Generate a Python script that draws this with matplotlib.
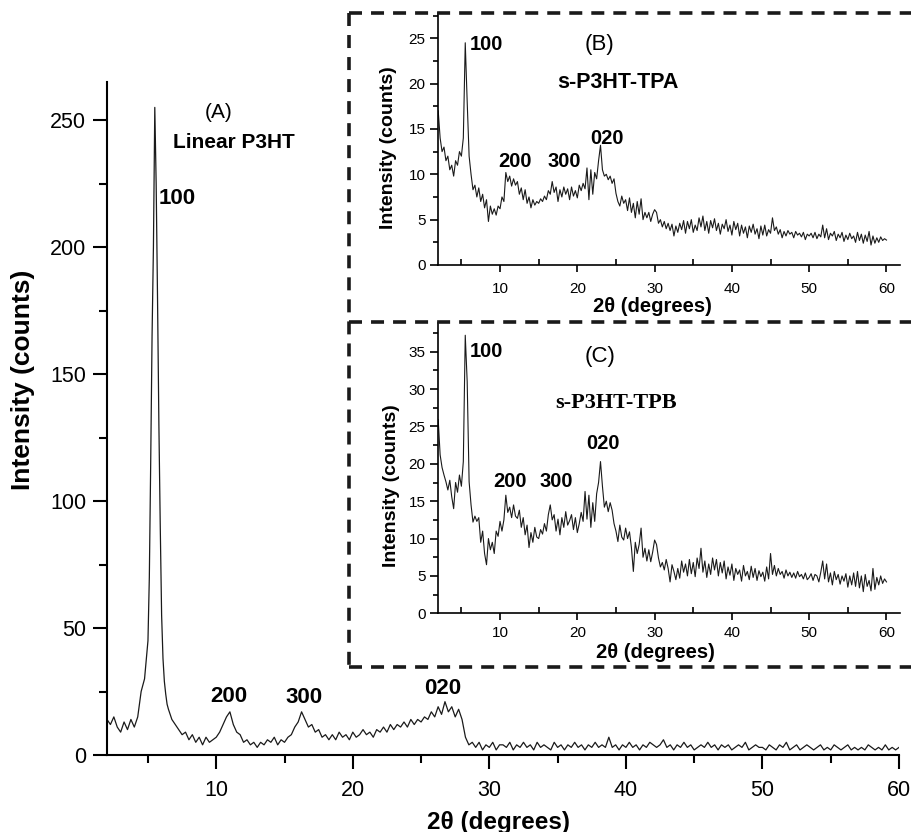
import numpy as np
import matplotlib.pyplot as plt
from matplotlib.lines import Line2D
from matplotlib.ticker import MultipleLocator

plt.rcParams['font.family'] = ['Liberation Sans', 'DejaVu Sans']

# ---------------- (A) Linear P3HT, counts ----------------
# sampled coarse before the 100 peak, fine across it, coarse after it
a_before_start, a_before_step = 2.0, 0.25
a_before = [14, 12, 15, 11, 9, 13, 10, 14, 11, 15, 25, 30]

a_peak_start, a_peak_step = 5.0, 0.1
a_peak = [45, 70, 115, 165, 200, 255, 225, 180, 130, 90, 55, 38, 29, 24, 20]

a_after_start, a_after_step = 6.5, 0.25
a_after = [18, 14,
           12, 10, 8, 9,   6, 8, 5, 7,   4, 7, 5, 6,   7, 9, 12, 15,
           17, 12, 9, 8,   5, 6, 4, 5,   3, 5, 4, 6,   5, 7, 4, 6,
           5, 7, 8, 11,    13, 17, 14, 11,  12, 9, 10, 7,  8, 6, 8, 6,
           9, 7, 8, 6,     9, 7, 8, 10,  8, 9, 7, 10,  9, 11, 9, 12,
           10, 12, 11, 13,  11, 14, 12, 14,  13, 15, 14, 17,  15, 19, 16, 21,
           17, 19, 15, 18,  14, 7, 4, 5,
           # 29 - 35.75
           3, 5, 2, 4, 3, 5, 2, 4, 4, 3, 5, 2, 4, 3, 5, 3, 4, 2, 5, 3, 4, 3, 2, 5, 3, 4, 2, 4,
           # 36 - 42.75
           3, 5, 3, 4, 2, 4, 3, 5, 3, 4, 3, 7, 3, 4, 2, 4, 3, 5, 3, 4, 2, 4, 3, 5, 4, 3, 4, 6,
           # 43 - 49.75
           3, 4, 2, 4, 3, 5, 3, 4, 2, 3, 4, 3, 5, 3, 4, 2, 4, 3, 4, 2, 3, 4, 3, 5, 2, 3, 4, 3,
           # 50 - 56.75
           3, 2, 4, 3, 2, 4, 3, 5, 2, 3, 4, 2, 3, 4, 3, 2, 3, 4, 2, 3, 2, 4, 3, 2, 3, 4, 2, 3,
           # 57 - 60
           2, 3, 2, 4, 3, 2, 3, 2, 4, 2, 3, 2, 3]

# ---------------- insets, 2 to 60 degrees in 0.25 steps ----------------
inset_start, inset_step = 2.0, 0.25

# (B) s-P3HT-TPA, four values per degree
tpa_counts = [
    17, 14, 12.5, 13,  11.5, 12, 10.5, 11,  9.8, 11.5, 11, 12.5,  12, 14, 24.5, 18,
    12, 10, 8.3, 8.8,  7.5, 8.5, 7, 7.8,  6.3, 7.2, 4.8, 6.5,  5.6, 6.2, 5.5, 6.5,
    6.2, 7.5, 7.0, 10.2,  9.2, 9.8, 8.7, 9.5,  8.8, 9.2, 7.8, 8.5,  7.2, 8.3, 6.8, 7.5,
    6.3, 7.2, 6.6, 7.0,  6.8, 7.3, 7.0, 7.6,  7.2, 8.2, 7.8, 9.2,  8.0, 8.6, 7.0, 8.3,
    7.5, 8.6, 7.8, 8.4,  7.2, 8.6, 7.6, 8.2,  7.4, 8.8, 8.2, 9.0,  8.4, 10.7, 7.2, 10.5,
    7.8, 10.2, 9.5, 11.5,  13.2, 10.5, 9.8, 10.0,  9.4, 9.8, 9.0, 9.5,  7.9, 7.0, 6.5, 7.6,
    6.8, 7.2, 6.0, 7.4,  5.8, 6.8, 5.2, 7.0,  5.6, 7.3, 5.0, 5.8,  5.2, 5.8, 4.8, 5.6,
    6.1, 5.8, 4.6, 5.0,  4.2, 4.8, 4.0, 4.6,  3.8, 4.5, 3.2, 4.3,  3.6, 4.6, 3.9, 4.9,
    3.5, 4.8, 4.0, 5.0,  3.6, 4.4, 3.8, 5.2,  4.2, 5.4, 3.8, 4.8,  3.5, 4.9, 4.1, 5.1,
    3.8, 4.6, 3.4, 4.5,  4.0, 5.0, 3.7, 4.4,  3.3, 4.8, 3.9, 4.6,  3.2, 4.4, 3.5, 4.2,
    3.0, 4.3, 3.6, 4.5,  3.4, 4.0, 2.9, 4.3,  3.3, 4.4, 3.2, 3.9,  3.5, 5.2, 3.8, 4.2,
    3.4, 3.9, 3.0, 3.7,  3.2, 3.8, 3.4, 3.6,  3.0, 3.7, 3.3, 3.5,  3.1, 3.6, 2.8, 3.4,
    3.2, 3.5, 3.0, 3.6,  2.9, 3.4, 3.1, 4.4,  3.0, 4.0, 2.8, 3.5,  3.2, 3.7, 2.7, 3.4,
    3.0, 3.6, 2.6, 3.3,  2.8, 3.5, 2.9, 3.2,  2.5, 3.6, 2.7, 3.4,  2.4, 3.3, 2.6, 3.7,
    2.2, 3.2, 2.4, 3.0,  2.5, 3.1, 2.7, 2.9,  2.75]

# (C) s-P3HT-TPB
tpb_counts = [
    25.9, 21.2, 19.5, 18.5,  17.6, 16.5, 17.8, 15.6,  14.0, 17.5, 16.2, 18.5,  17.0, 20.3, 37.2, 31.0,
    17.6, 14.5, 12.2, 13.0,  12.3, 12.8, 9.5, 11.0,  8.0, 6.5, 10.0, 8.5,  9.5, 8.0, 11.0, 10.3,
    12.3, 11.0, 12.5, 15.8,  13.5, 14.2, 12.8, 14.5,  13.0, 12.7, 13.8, 11.5,  12.8, 10.5, 11.8, 8.8,
    10.8, 9.5, 11.5, 10.2,  10.0, 11.2, 10.6, 12.0,  11.0, 13.2, 14.5, 12.5,  13.2, 11.0, 12.6, 10.5,
    12.8, 11.5, 13.6, 11.8,  12.4, 13.2, 11.2, 12.8,  10.8, 12.0, 13.5, 12.3,  16.3, 12.6, 15.8, 11.5,
    14.8, 12.3, 16.0, 17.5,  20.3, 17.0, 14.2, 15.0,  13.6, 14.8, 13.8, 12.0,  11.0, 9.6, 11.8, 10.2,
    9.8, 11.4, 10.0, 10.9,  8.8, 5.6, 9.5, 8.0,  9.2, 11.4, 7.5, 8.7,  7.0, 8.5, 6.9, 8.2,
    9.8, 9.2, 7.4, 6.2,  6.8, 5.8, 7.2, 6.0,  4.2, 6.5, 5.6, 4.5,  6.0, 4.7, 7.0, 5.5,
    6.6, 5.0, 7.2, 5.3,  6.8, 4.9, 7.4, 6.0,  8.7, 5.5, 7.0, 4.8,  6.6, 5.2, 7.4, 5.8,
    7.2, 5.0, 6.8, 5.4,  7.0, 4.6, 6.2, 5.1,  6.6, 4.4, 6.0, 5.2,  5.8, 4.3, 6.4, 5.0,
    5.6, 4.5, 6.3, 4.8,  6.0, 4.4, 5.7, 4.9,  5.5, 4.3, 6.2, 4.6,  8.0, 5.2, 6.4, 5.0,
    6.0, 5.2, 5.6, 4.7,  5.8, 5.0, 5.5, 4.8,  5.4, 4.7, 5.6, 4.9,  5.2, 4.6, 5.4, 4.5,
    4.8, 5.3, 4.4, 5.2,  5.0, 4.2, 5.5, 7.0,  4.6, 6.6, 4.2, 5.4,  3.8, 5.6, 4.5, 5.2,
    3.9, 5.0, 4.3, 5.3,  3.5, 5.0, 3.8, 5.4,  3.6, 5.6, 3.4, 5.0,  2.9, 5.2, 3.6, 4.4,
    3.0, 6.0, 3.2, 4.8,  3.8, 5.0, 4.0, 4.6,  4.2]

peak_labels = ['100', '200', '300', '020']


def grid(start, step, values):
    return start + step * np.arange(len(values))


a_x = np.concatenate([grid(a_before_start, a_before_step, a_before),
                      grid(a_peak_start, a_peak_step, a_peak),
                      grid(a_after_start, a_after_step, a_after)])
a_y = np.array(a_before + a_peak + a_after, dtype=float)
tpa_x = grid(inset_start, inset_step, tpa_counts)
tpb_x = grid(inset_start, inset_step, tpb_counts)

W, H = 912, 832


def px_rect(left, top, right, bottom):
    # pixel box of the picture -> figure fraction
    return [left / W, 1 - bottom / H, (right - left) / W, (bottom - top) / H]


fig = plt.figure(figsize=(W / 100, H / 100), dpi=100)
line_color = '#1a1a1a'

# ---------------- main panel ----------------
ax = fig.add_axes(px_rect(107, 82, 899, 755))
ax.plot(a_x, a_y, color=line_color, lw=0.9)
ax.set_xlim(2, 60)
ax.set_ylim(0, 265)
for s in ['top', 'right']:
    ax.spines[s].set_visible(False)
for s in ['left', 'bottom']:
    ax.spines[s].set_linewidth(1.5)
ax.xaxis.set_major_locator(MultipleLocator(10))
ax.xaxis.set_minor_locator(MultipleLocator(5))
ax.yaxis.set_major_locator(MultipleLocator(50))
ax.yaxis.set_minor_locator(MultipleLocator(25))
ax.tick_params(which='both', direction='out', width=1.5, labelsize=15.5)
ax.tick_params(which='major', length=10)
ax.tick_params(which='minor', length=5.5)
ax.tick_params(axis='x', pad=8)
ax.tick_params(axis='y', pad=5)
ax.set_xlabel('2θ (degrees)', fontsize=17.5, fontweight='bold', va='center')
ax.xaxis.set_label_coords(0.494, -0.0996)
ax.set_ylabel('Intensity (counts)', fontsize=19, fontweight='bold', va='center')
ax.yaxis.set_label_coords(-0.106, 0.557)

ax.text(10.2, 253, '(A)', ha='center', va='center', fontsize=15)
ax.text(11.3, 241, 'Linear P3HT', ha='center', va='center', fontsize=15, fontweight='bold')
for lab, (x, y) in zip(peak_labels, [(7.13, 219), (10.94, 23), (16.44, 22.5), (26.6, 26)]):
    ax.text(x, y, lab, ha='center', va='center', fontsize=16, fontweight='bold')

# ---------------- insets ----------------
axb = fig.add_axes(px_rect(438.2, 13.3, 900, 265))
axc = fig.add_axes(px_rect(438.2, 323.3, 900, 613.3))
axb.plot(tpa_x, tpa_counts, color=line_color, lw=0.8)
axc.plot(tpb_x, tpb_counts, color=line_color, lw=0.8)
axb.set_ylim(0, 27.75)
axc.set_ylim(0, 38.8)

for axi, xpad in ((axb, 7), (axc, 4)):
    axi.set_xlim(2, 61.75)
    axi.patch.set_alpha(0)
    for s in ['top', 'right']:
        axi.spines[s].set_visible(False)
    for s in ['left', 'bottom']:
        axi.spines[s].set_linewidth(1.2)
    axi.xaxis.set_major_locator(MultipleLocator(10))
    axi.xaxis.set_minor_locator(MultipleLocator(5))
    axi.yaxis.set_major_locator(MultipleLocator(5))
    axi.yaxis.set_minor_locator(MultipleLocator(2.5))
    axi.tick_params(axis='x', which='major', direction='out', length=5, width=1.2,
                    labelsize=11, pad=xpad)
    axi.tick_params(axis='x', which='minor', direction='in', length=4, width=1.2)
    axi.tick_params(axis='y', which='major', direction='out', length=6, width=1.2,
                    labelsize=11, pad=3)
    axi.tick_params(axis='y', which='minor', direction='out', length=3.5, width=1.2)
    axi.set_xlabel('2θ (degrees)', fontsize=14.5, fontweight='bold', va='center')
    axi.set_ylabel('Intensity (counts)', fontsize=14, fontweight='bold', va='center')

axb.xaxis.set_label_coords(0.465, -0.163)
axb.yaxis.set_label_coords(-0.108, 0.467)
axc.xaxis.set_label_coords(0.471, -0.135)
axc.yaxis.set_label_coords(-0.102, 0.439)

axb.text(22.9, 24.3, '(B)', ha='center', va='center', fontsize=16)
axb.text(25.3, 20.1, 's-P3HT-TPA', ha='center', va='center', fontsize=15.5, fontweight='bold')
for lab, (x, y) in zip(peak_labels, [(8.3, 24.3), (12.0, 11.4), (18.3, 11.4), (23.8, 14.0)]):
    axb.text(x, y, lab, ha='center', va='center', fontsize=14.5, fontweight='bold')

axc.text(22.9, 34.3, '(C)', ha='center', va='center', fontsize=16)
axc.text(25.0, 28.1, 's-P3HT-TPB', ha='center', va='center', fontsize=16,
         fontweight='bold', family=['Liberation Serif', 'DejaVu Serif'])
for lab, (x, y) in zip(peak_labels, [(8.3, 35.0), (11.3, 17.6), (17.3, 17.6), (23.3, 22.7)]):
    axc.text(x, y, lab, ha='center', va='center', fontsize=14.5, fontweight='bold')

# ---------------- dashed frame round the insets ----------------
def dashed(xs, ys):
    fig.add_artist(Line2D([x / W for x in xs], [1 - y / H for y in ys],
                          transform=fig.transFigure, color='#1a1a1a', lw=2.6,
                          dashes=(3.6, 2.5), solid_capstyle='butt'))

dashed([349, 912], [13.3, 13.3])
dashed([349, 912], [321.7, 321.7])
dashed([349, 912], [667, 667])
dashed([349.3, 349.3], [13.3, 667])

fig.savefig('out.png', dpi=100)
